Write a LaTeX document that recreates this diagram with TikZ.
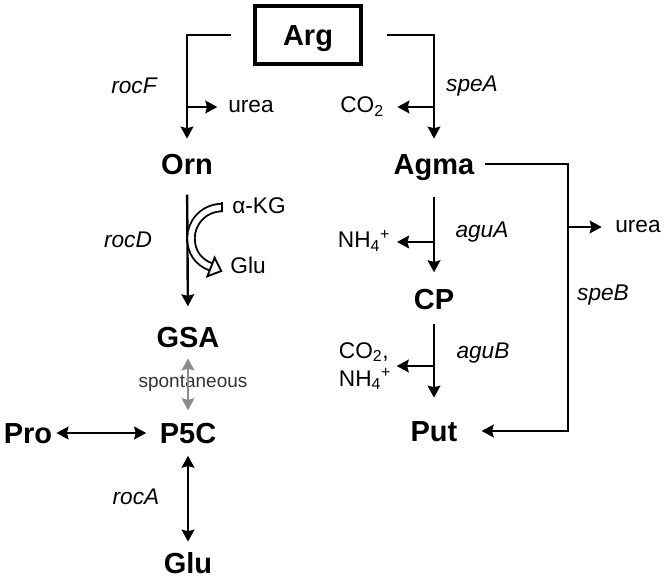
\documentclass[tikz,border=0pt]{standalone}
\usepackage{fontspec}
\setmainfont{Liberation Sans}
\usetikzlibrary{arrows.meta,calc}

\begin{document}
\begin{tikzpicture}[x=0.75pt,y=-0.75pt,line cap=butt,line join=miter,
    >={Stealth[length=9pt,width=9.5pt,inset=1.2pt]},
    met/.style={font=\fontsize{21.75}{26}\selectfont\bfseries,inner sep=0pt,
                text height=15.6pt,text depth=0pt},
    enz/.style={font=\fontsize{17}{20}\selectfont\itshape,inner sep=0pt},
    sub/.style={font=\fontsize{17}{20}\selectfont,inner sep=0pt,
                text height=12pt,text depth=3pt},
    arr/.style={line width=1.8pt,->}]
  \useasboundingbox (0,0) rectangle (666,580);

  % metabolites
  \node[met,draw,line width=3pt,minimum width=80pt,minimum height=43.5pt,
        text height=15.6pt] (arg) at (308,35) {Arg};
  \node[met] (orn)  at (187,164) {Orn};
  \node[met] (gsa)  at (188,337) {GSA};
  \node[met] (p5c)  at (188,433) {P5C};
  \node[met] (pro)  at (28,433)  {Pro};
  \node[met] (glu)  at (188,563) {Glu};
  \node[met] (agma) at (434,164) {Agma};
  \node[met] (cp)   at (434,299) {CP};
  \node[met] (put)  at (434,431) {Put};

  % side products
  \node[sub] (urea1) at (251,107) {urea};
  \node[sub] (co2a)  at (362,107) {CO\textsubscript{2}};
  \node[sub] (akg)   at (259,208) {α-KG};
  \node[sub] (glu2)  at (248,268) {Glu};
  \node[sub] (nh4a)  at (364,242) {NH\textsubscript{4}\textsuperscript{+}};
  \node[font=\fontsize{17}{21}\selectfont,inner sep=0pt,align=left]
        (co2b) at (365,366) {CO\textsubscript{2},\\NH\textsubscript{4}\textsuperscript{+}};
  \node[sub] (urea2) at (638,227) {urea};

  % genes
  \node[enz] at (134,86)  {rocF};
  \node[enz] at (472,86)  {speA};
  \node[enz] at (128,240) {rocD};
  \node[enz] at (136,497) {rocA};
  \node[enz] at (482,232) {aguA};
  \node[enz] at (483,353) {aguB};
  \node[enz] at (603,295) {speB};
  \node[font=\fontsize{14.25}{17}\selectfont,text=black!80,inner sep=0pt]
        (spont) at (193,383) {spontaneous};

  % Arg branches
  \draw[arr,shorten <=16.5pt,shorten >=11pt] (arg.west) -| (orn.north);
  \draw[arr,shorten <=18pt,shorten >=11pt] (arg.east) -| (agma.north);
  \draw[arr,shorten >=8pt] (orn |- urea1) -- (urea1.west);
  \draw[arr,shorten >=10pt] (agma |- co2a) -- (co2a.east);

  % ornithine route
  \draw[arr,shorten <=15pt,shorten >=15pt] (orn.south) -- (gsa.north);
  \draw[line width=7pt] (222,207.5) .. controls (202,208) and (191,224) .. (191,238)
        .. controls (191,252) and (198,262) .. (211,267);
  \draw[line width=4.2pt,white] (222,207.5) .. controls (202,208) and (191,224) .. (191,238)
        .. controls (191,252) and (198,262) .. (211,267);
  \draw[line width=1.4pt] (222,202.5) -- (222,212.5);
  \draw[line width=1.4pt,fill=white] (207.4,276.3) -- (221.3,271) -- (214.6,257.7) -- cycle;
  \draw[line width=1.8pt,<->,black!45,shorten <=8pt,shorten >=9pt] (gsa.south) -- (p5c.north);
  \draw[line width=1.8pt,<->,shorten <=3pt,shorten >=10pt] (pro.east) -- (p5c.west);
  \draw[line width=1.8pt,<->,shorten <=9pt,shorten >=8pt] (p5c.south) -- (glu.north);

  % agmatine route
  \draw[arr,shorten <=17pt,shorten >=12pt] (agma.south) -- (cp.north);
  \draw[arr,shorten >=5pt] (cp |- nh4a) -- (nh4a.east);
  \draw[arr,shorten <=10.5pt,shorten >=17pt] (cp.south) -- (put.north);
  \draw[arr,shorten >=4pt] (cp |- co2b) -- (co2b.east);
  \coordinate (sp) at (568,227);
  \draw[arr,shorten <=7.5pt,shorten >=18pt] (agma.east) -| (sp) |- (put.east);
  \draw[arr,shorten >=10pt] (sp) -- (urea2.west);
\end{tikzpicture}
\end{document}
